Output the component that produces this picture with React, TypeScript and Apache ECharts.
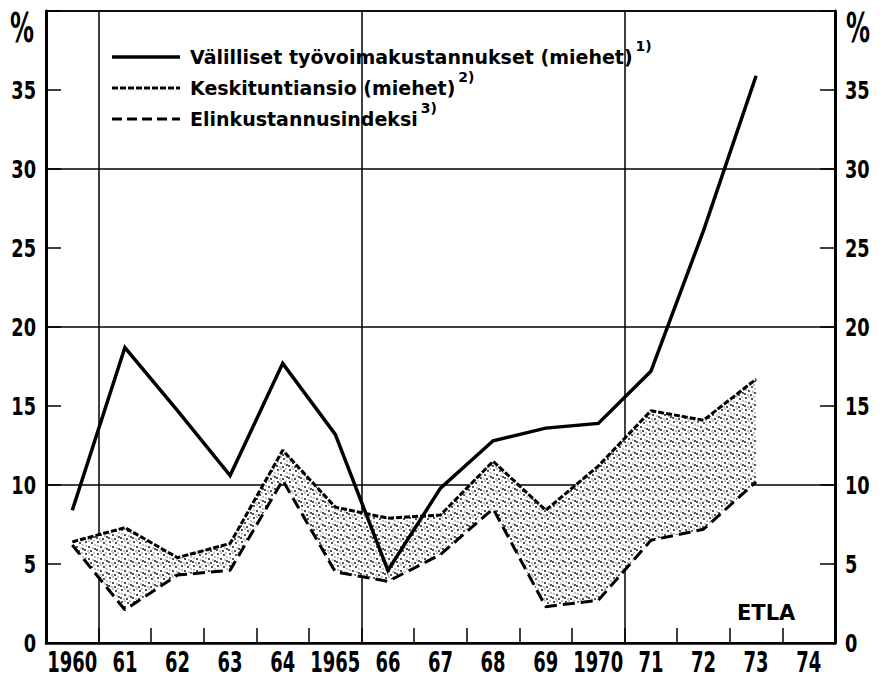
import React, { useEffect, useRef } from 'react';
import * as echarts from 'echarts';

const years = ['1960', '61', '62', '63', '64', '1965', '66', '67', '68', '69', '1970', '71', '72', '73', '74'];
const valilliset = [8.4, 18.7, 14.7, 10.6, 17.7, 13.2, 4.6, 9.8, 12.8, 13.6, 13.9, 17.2, 26.1, 35.9];
const keskituntiansio = [6.4, 7.3, 5.4, 6.3, 12.2, 8.6, 7.9, 8.1, 11.5, 8.4, 11.2, 14.7, 14.1, 16.7];
const elinkustannus = [6.2, 2.1, 4.3, 4.6, 10.3, 4.5, 3.9, 5.6, 8.5, 2.3, 2.7, 6.5, 7.2, 10.2];
const yTickLabels = [0, 5, 10, 15, 20, 25, 30, 35];
const seriesNames = ['Välilliset työvoimakustannukset (miehet)', 'Keskituntiansio (miehet)', 'Elinkustannusindeksi'];
const footnotes = ['1)', '2)', '3)'];
const yMax = 40;
const yStep = 5;

const HEAVY = '"DejaVu Sans", "Liberation Sans", sans-serif';

function makeStipple(): HTMLCanvasElement {
  const c = document.createElement('canvas');
  c.width = 12;
  c.height = 12;
  const ctx = c.getContext('2d')!;
  ctx.fillStyle = '#ffffff';
  ctx.fillRect(0, 0, 12, 12);
  const dark = [[2, 2], [8, 3], [5, 7], [11, 9], [1, 10], [7, 11]];
  const light = [[5, 1], [11, 5], [2, 6], [9, 8], [4, 11], [10, 1]];
  ctx.fillStyle = '#1a1a1a';
  dark.forEach(([x, y]) => { ctx.beginPath(); ctx.arc(x, y, 1.0, 0, Math.PI * 2); ctx.fill(); });
  ctx.fillStyle = '#6a6a6a';
  light.forEach(([x, y]) => { ctx.beginPath(); ctx.arc(x, y, 0.75, 0, Math.PI * 2); ctx.fill(); });
  return c;
}

export default function App() {
  const ref = useRef<HTMLDivElement>(null);
  useEffect(() => {
    const chart = echarts.init(ref.current!, null, { renderer: 'svg' });
    const stipple = makeStipple();
    const bandDiff = keskituntiansio.map((v, i) => +(v - elinkustannus[i]).toFixed(2));

    const option: any = {
      animation: false,
      backgroundColor: '#ffffff',
      grid: { left: 46, right: 59, top: 11, bottom: 35, show: true, borderColor: '#000', borderWidth: 1.5, backgroundColor: 'transparent' },
      xAxis: {
        type: 'category',
        data: years,
        boundaryGap: true,
        axisLine: { show: true, lineStyle: { color: '#000', width: 2.5 } },
        axisTick: { show: true, inside: true, length: 15, interval: 0, lineStyle: { color: '#000', width: 1.5 } },
        axisLabel: { show: false },
        splitLine: { show: true, interval: (i: number) => i % 5 === 1, lineStyle: { color: '#000', width: 1.5 } },
      },
      yAxis: [
        {
          type: 'value', min: 0, max: yMax, interval: yStep, position: 'left',
          axisLine: { show: true, lineStyle: { color: '#000', width: 3 } },
          axisTick: { show: true, inside: true, length: 15, lineStyle: { color: '#000', width: 1.5 } },
          axisLabel: { show: false },
          splitLine: { show: false },
        },
        {
          type: 'value', min: 0, max: yMax, interval: yStep, position: 'right',
          axisLine: { show: true, lineStyle: { color: '#000', width: 3 } },
          axisTick: { show: true, inside: true, length: 15, lineStyle: { color: '#000', width: 1.5 } },
          axisLabel: { show: false },
          splitLine: { show: false },
        },
        {
          type: 'value', min: 0, max: yMax, interval: 10, position: 'left',
          axisLine: { show: false }, axisTick: { show: false }, axisLabel: { show: false },
          splitLine: { show: true, lineStyle: { color: '#000', width: 1.5 } },
        },
      ],
      series: [
        {
          name: 'band-base', type: 'line', stack: 'band', data: elinkustannus, symbol: 'none', silent: true,
          lineStyle: { opacity: 0 }, z: 1,
        },
        {
          name: 'band', type: 'line', stack: 'band', data: bandDiff, symbol: 'none', silent: true,
          lineStyle: { opacity: 0 }, z: 1,
          areaStyle: { color: { image: stipple, repeat: 'repeat', imageWidth: 12, imageHeight: 12 }, opacity: 1 },
        },
        {
          name: seriesNames[0], type: 'line', data: valilliset, symbol: 'none', z: 3,
          lineStyle: { color: '#000', width: 3.5, join: 'miter' },
        },
        {
          name: seriesNames[1], type: 'line', data: keskituntiansio, symbol: 'none', z: 3,
          lineStyle: { color: '#000', width: 3, type: [6, 2] },
        },
        {
          name: seriesNames[2], type: 'line', data: elinkustannus, symbol: 'none', z: 3,
          lineStyle: { color: '#000', width: 3, type: [12, 6] },
        },
      ],
    };
    chart.setOption(option);

    // Labels drawn as horizontally condensed text, positioned through the chart's own scales
    const g: any[] = [];
    const y0 = chart.convertToPixel({ yAxisIndex: 0 }, 0) as number;
    const gridRect = (chart as any).getModel().getComponent('grid', 0).coordinateSystem.getRect();
    const axisLeft = gridRect.x;
    const axisRight = gridRect.x + gridRect.width;
    yTickLabels.forEach((v) => {
      const py = chart.convertToPixel({ yAxisIndex: 0 }, v) as number;
      g.push({ type: 'text', x: axisLeft - 10, y: py, scaleX: 0.74, silent: true,
        style: { text: String(v), font: `bold 24px ${HEAVY}`, lineHeight: 26, fill: '#000', align: 'right', verticalAlign: 'middle' } });
      g.push({ type: 'text', x: axisRight + 10, y: py, scaleX: 0.74, silent: true,
        style: { text: String(v), font: `bold 24px ${HEAVY}`, lineHeight: 26, fill: '#000', align: 'left', verticalAlign: 'middle' } });
    });
    years.forEach((yr) => {
      const px = chart.convertToPixel({ xAxisIndex: 0 }, yr) as number;
      g.push({ type: 'text', x: px, y: y0 + 19, scaleX: 0.62, silent: true,
        style: { text: yr, font: `bold 29px ${HEAVY}`, lineHeight: 30, fill: '#000', align: 'center', verticalAlign: 'middle' } });
    });
    const yTop = chart.convertToPixel({ yAxisIndex: 0 }, yMax) as number;
    g.push({ type: 'text', x: axisLeft - 24, y: yTop + 17, scaleX: 0.6, silent: true,
      style: { text: '%', font: `bold 40px ${HEAVY}`, lineHeight: 40, fill: '#000', align: 'center', verticalAlign: 'middle' } });
    g.push({ type: 'text', x: axisRight + 23, y: yTop + 17, scaleX: 0.6, silent: true,
      style: { text: '%', font: `bold 40px ${HEAVY}`, lineHeight: 40, fill: '#000', align: 'center', verticalAlign: 'middle' } });
    g.push({ type: 'text', x: 737, y: 613, silent: true,
      style: { text: 'ETLA', font: `bold 21px ${HEAVY}`, fill: '#000', align: 'left', verticalAlign: 'middle' } });

    // Legend
    const legendFontSize = 19;
    const mc = document.createElement('canvas').getContext('2d')!;
    mc.font = `bold ${legendFontSize}px "DejaVu Sans"`;
    const legendX = 190;
    const rowY = [57, 88, 119];
    const dashes: (number[] | null)[] = [null, [6, 2], [10, 5]];
    const widths = [3.5, 3, 3];
    seriesNames.forEach((name, i) => {
      g.push({
        type: 'line', silent: true,
        shape: { x1: 112, y1: rowY[i], x2: 180, y2: rowY[i] },
        style: { stroke: '#000', lineWidth: widths[i], lineDash: dashes[i] || undefined },
      });
      g.push({
        type: 'text', x: legendX, y: rowY[i], silent: true,
        style: { text: name, font: `bold ${legendFontSize}px ${HEAVY}`, fill: '#000', verticalAlign: 'middle', align: 'left' },
      });
      const w = mc.measureText(name).width;
      g.push({
        type: 'text', x: legendX + w + 3, y: rowY[i] - 11, silent: true,
        style: { text: footnotes[i], font: `bold 14px ${HEAVY}`, fill: '#000', verticalAlign: 'middle', align: 'left' },
      });
    });
    chart.setOption({ graphic: g });
    return () => chart.dispose();
  }, []);
  return <div ref={ref} style={{ position: 'fixed', left: 0, top: 0, width: 894, height: 678, background: '#fff' }} />;
}
